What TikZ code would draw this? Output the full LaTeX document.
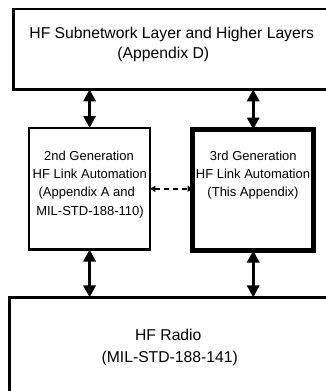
\documentclass[tikz,border=0pt]{standalone}
\usepackage{fontspec}
\setmainfont{Liberation Sans}
\usetikzlibrary{arrows.meta}
\begin{document}
\begin{tikzpicture}[x=1pt,y=-1pt,
  box/.style={draw=black,line width=2.4pt,fill=white,inner sep=0pt,outer sep=0pt},
  bigtxt/.style={inner sep=0pt,anchor=base,font=\fontsize{15.7}{20}\selectfont},
  midtxt/.style={inner sep=0pt,anchor=base,font=\fontsize{13}{18.3}\selectfont},
  dblarrow/.style={line width=3.4pt,{Triangle[length=12pt,width=12pt]}-{Triangle[length=12pt,width=12pt]}},
  dasharrow/.style={line width=1.8pt,dash pattern=on 5pt off 4pt,{Triangle[length=5pt,width=6pt]}-{Triangle[length=5pt,width=6pt]}}]
\useasboundingbox (0,0) rectangle (326,391);
\fill[white] (0,0) rectangle (326,391);
\clip (0,0) rectangle (326,391);
% boxes
\node[box,minimum width=331.7pt,minimum height=80.6pt] (top) at (179.2,49) {};
\node[box,minimum width=121.3pt,minimum height=121.5pt] (left) at (89.6,188.75) {};
\node[box,line width=5pt,minimum width=121.3pt,minimum height=121pt] (right) at (253.2,190) {};
\node[box,line width=2.8pt,minimum width=335.3pt,minimum height=112.5pt] (bottom) at (177.4,353.7) {};
% texts
\node[bigtxt] (t1) at (171.7,38.5) {HF Subnetwork Layer and Higher Layers};
\node[bigtxt] (t2) at (163.3,58.5) {(Appendix D)};
\node[midtxt] (l1) at (89,160) {2nd Generation};
\node[midtxt] (l2) at (89.8,178.3) {HF Link Automation};
\node[midtxt] (l3) at (86.7,196.6) {(Appendix A and};
\node[midtxt] (l4) at (90,215) {MIL-STD-188-110)};
\node[midtxt] (r1) at (253.3,160) {3rd Generation};
\node[midtxt] (r2) at (253,178.3) {HF Link Automation};
\node[midtxt] (r3) at (253,196.6) {(This Appendix)};
\node[bigtxt] (b1) at (168.3,340) {HF Radio};
\node[bigtxt] (b2) at (169.7,362) {(MIL-STD-188-141)};
% connectors
\draw[dblarrow] (top.south -| left.north) -- (left.north);
\draw[dblarrow] (top.south -| right.north) -- (right.north);
\draw[dblarrow] (left.south) -- (left.south |- bottom.north);
\draw[dblarrow] (right.south) -- (right.south |- bottom.north);
\draw[dasharrow] (left.east) -- (left.east -| right.west);
\end{tikzpicture}
\end{document}
